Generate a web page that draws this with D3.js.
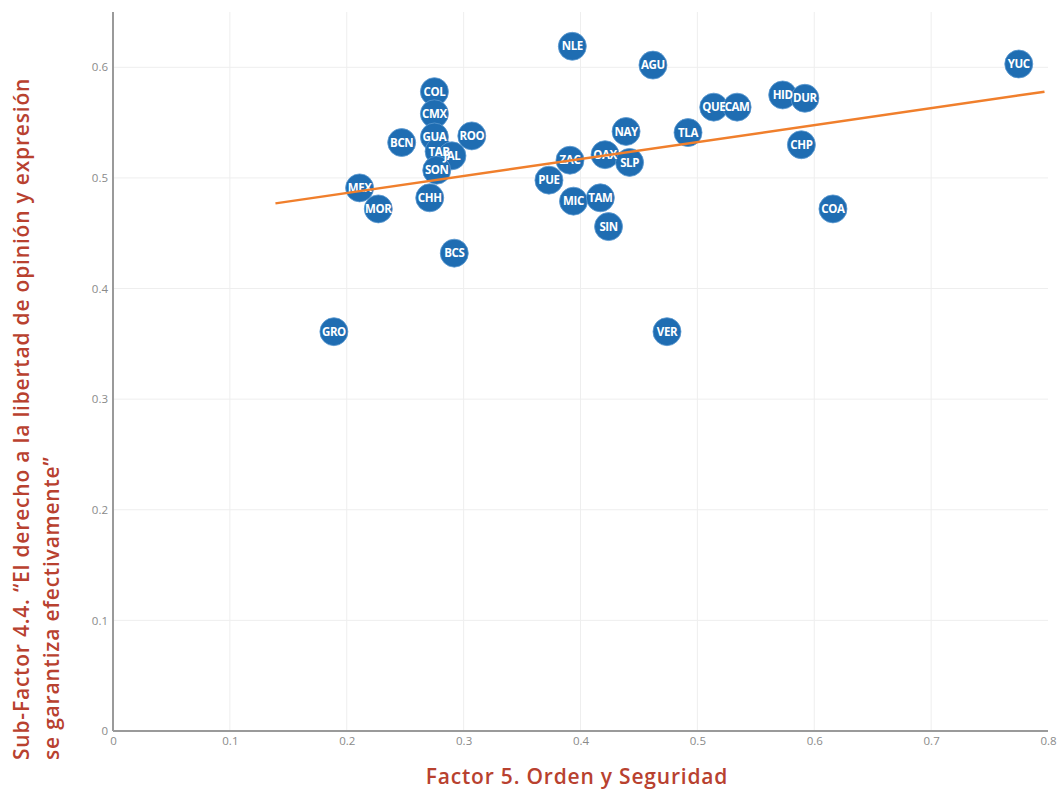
<!DOCTYPE html>
<html>
<head>
<meta charset="utf-8">
<script src="https://cdn.jsdelivr.net/npm/d3@7"></script>
<style>
  html, body { margin: 0; padding: 0; background: #fff; }
  svg { display: block; }
</style>
</head>
<body>
<svg id="chart" width="1061" height="789"></svg>
<script>
// ---- Data (draw order) ----
const states = ["GRO","VER","BCS","MEX","MOR","CHH","BCN","COL","CMX","GUA","TAB","JAL","SON","ROO",
                "ZAC","PUE","MIC","TAM","SIN","NAY","OAX","SLP","NLE","AGU","TLA","QUE","CAM","HID","DUR","CHP","COA","YUC"];
const factor5 = [0.189,0.474,0.292,0.211,0.227,0.271,0.247,0.275,0.275,0.275,0.279,0.290,0.277,0.307,
                 0.391,0.373,0.394,0.417,0.424,0.439,0.421,0.442,0.393,0.462,0.492,0.514,0.534,0.573,0.592,0.589,0.616,0.775];
const subFactor44 = [0.361,0.361,0.432,0.491,0.472,0.482,0.532,0.578,0.558,0.537,0.524,0.520,0.507,0.538,
                     0.516,0.498,0.479,0.482,0.456,0.542,0.521,0.514,0.619,0.602,0.541,0.564,0.564,0.575,0.572,0.530,0.472,0.603];
const trendX = [0.139, 0.797];
const trendY = [0.477, 0.578];
const xTicks = [0,0.1,0.2,0.3,0.4,0.5,0.6,0.7,0.8];
const yTicks = [0,0.1,0.2,0.3,0.4,0.5,0.6];
const xTitle = "Factor 5. Orden y Seguridad";
const yTitle1 = "Sub-Factor 4.4. \u201cEl derecho a la libertad de opini\u00f3n y expresi\u00f3n";
const yTitle2 = "se garantiza efectivamente\u201d";

// ---- Layout ----
const svg = d3.select("#chart");
const L = 113, R = 1048, T = 12, B = 731;
const x = d3.scaleLinear().domain([0, 0.8]).range([L, R]);
const y = d3.scaleLinear().domain([0, 0.65]).range([B, T]);

// gridlines
const grid = svg.append("g");
grid.selectAll("line.v").data(xTicks.filter(d => d > 0 && d < 0.8)).join("line")
  .attr("x1", d => x(d)).attr("x2", d => x(d)).attr("y1", T).attr("y2", B)
  .attr("stroke", "#eeeeee").attr("stroke-width", 1);
grid.selectAll("line.h").data(yTicks.filter(d => d > 0)).join("line")
  .attr("x1", L).attr("x2", R).attr("y1", d => y(d)).attr("y2", d => y(d))
  .attr("stroke", "#eeeeee").attr("stroke-width", 1);

// axes
const xAxis = svg.append("g").attr("transform", `translate(0,${B})`)
  .call(d3.axisBottom(x).tickValues(xTicks).tickSize(0).tickPadding(6).tickFormat(d => d === 0 ? "0" : d3.format(".1f")(d)));
const yAxis = svg.append("g").attr("transform", `translate(${L},0)`)
  .call(d3.axisLeft(y).tickValues(yTicks).tickSize(0).tickPadding(5).tickFormat(d => d === 0 ? "0" : d3.format(".1f")(d)));
[xAxis, yAxis].forEach(a => {
  a.select(".domain").attr("stroke", "#9a9a9a").attr("stroke-width", 2);
  a.selectAll("text").attr("fill", "#8a8a8a").attr("font-family", "Open Sans, sans-serif").attr("font-size", 11.5);
});
xAxis.select(".domain").attr("d", `M${L},0H${R}`);
yAxis.select(".domain").attr("d", `M0,${B}V${T}`);

// points: circles layer, then text layer
const pts = states.map((s, i) => ({ s, x: factor5[i], y: subFactor44[i] }));
svg.append("g").selectAll("circle").data(pts).join("circle")
  .attr("cx", d => x(d.x)).attr("cy", d => y(d.y))
  .attr("r", 14).attr("fill", "#1f6db2").attr("stroke", "#5d9ad2").attr("stroke-width", 0.8);
svg.append("g").selectAll("text").data(pts).join("text")
  .attr("x", d => x(d.x)).attr("y", d => y(d.y)).text(d => d.s)
  .attr("text-anchor", "middle").attr("dy", "0.36em")
  .attr("fill", "#ffffff").attr("font-family", "Open Sans, sans-serif")
  .attr("font-weight", 700).attr("font-size", 11.5).attr("letter-spacing", -0.4);

// trend line
svg.append("path")
  .datum(trendX.map((v, i) => [v, trendY[i]]))
  .attr("d", d3.line().x(d => x(d[0])).y(d => y(d[1])))
  .attr("fill", "none").attr("stroke", "#f07f2c").attr("stroke-width", 2.5);

// titles
const titleColor = "#b8412f";
const tf = "Open Sans, sans-serif";
function title(sel) {
  return sel.attr("fill", titleColor).attr("font-family", tf).attr("font-weight", 600)
    .attr("font-size", 21).attr("letter-spacing", 0.8);
}
title(svg.append("text").text(xTitle)
  .attr("x", 577).attr("y", 784).attr("text-anchor", "middle"));
title(svg.append("text").text(yTitle1)
  .attr("transform", "translate(29,760) rotate(-90)").attr("text-anchor", "start"));
title(svg.append("text").text(yTitle2)
  .attr("transform", "translate(59,760) rotate(-90)").attr("text-anchor", "start"));
</script>
</body>
</html>
